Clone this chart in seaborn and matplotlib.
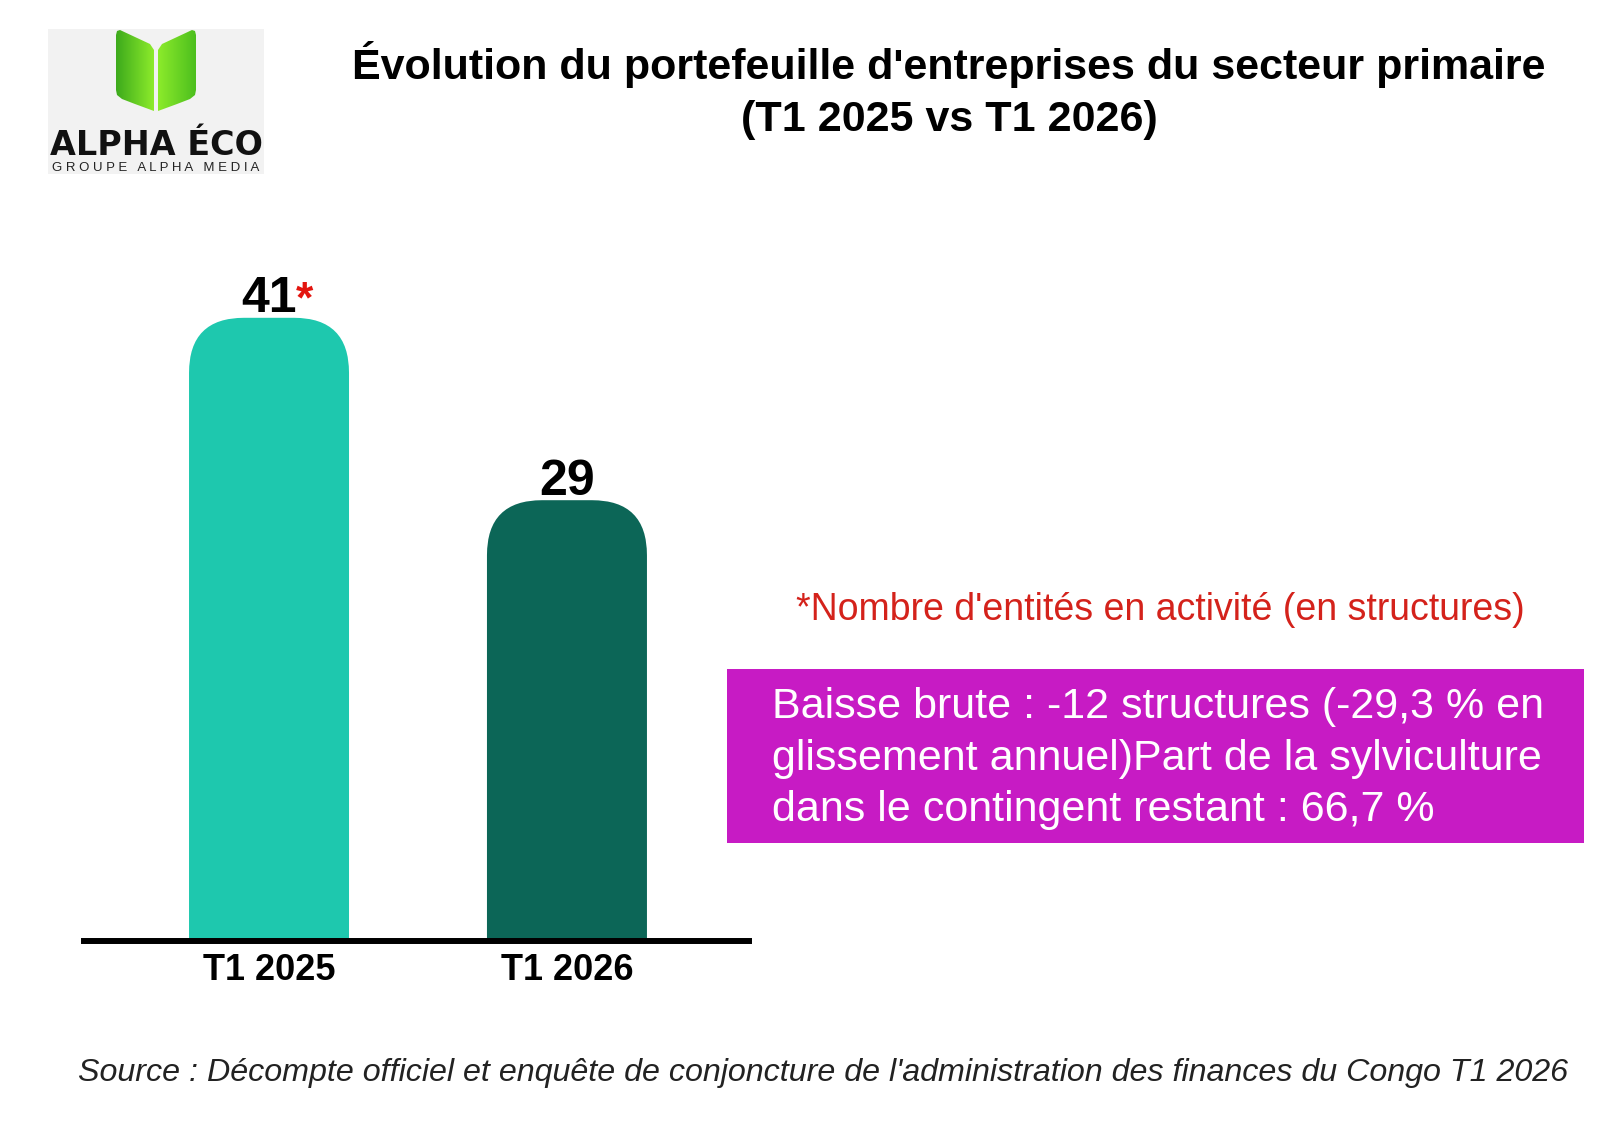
import matplotlib.pyplot as plt
import matplotlib.patches as mpatches
from matplotlib.colors import LinearSegmentedColormap
import numpy as np
import pandas as pd
import seaborn as sns

# Données
periods = ['T1 2025', 'T1 2026']
structures = [41, 29]
bar_colors = ['#1EC8AE', '#0C6657']

title_lines = ["Évolution du portefeuille d'entreprises du secteur primaire",
               "(T1 2025 vs T1 2026)"]
note = "*Nombre d'entités en activité (en structures)"
box_lines = ["Baisse brute : -12 structures (-29,3 % en",
             "glissement annuel)Part de la sylviculture",
             "dans le contingent restant : 66,7 %"]
source = ("Source : Décompte officiel et enquête de conjoncture de "
          "l'administration des finances du Congo T1 2026")

W, H = 1600, 1127


def fx(px):
    return px / W


def fy(py):
    return 1 - py / H


sns.set_theme(style='white')
plt.rcParams['font.family'] = ['Liberation Sans', 'DejaVu Sans']

fig = plt.figure(figsize=(16, 11.27), dpi=100)
fig.patch.set_facecolor('white')

# --- barres ---
ax = fig.add_axes([fx(84), fy(941), fx(749) - fx(84), fy(257) - fy(941)])
df = pd.DataFrame({'periode': periods, 'structures': structures})
sns.barplot(data=df, x='periode', y='structures', hue='periode',
            palette=bar_colors, legend=False, width=0.537, saturation=1, ax=ax)
ax.set_xlim(-0.621, 1.611)
ax.set_ylim(0, 45)

# barres arrondies en haut
p0 = ax.transData.transform((0, 0))
p1 = ax.transData.transform((1, 1))
px_x, px_y = p1[0] - p0[0], p1[1] - p0[1]
radius_px = 55
r = radius_px / px_x
aspect = (radius_px / px_y) / r
drop = radius_px / px_y
for bar in list(ax.patches):
    x0, w, h = bar.get_x(), bar.get_width(), bar.get_height()
    fc = bar.get_facecolor()
    bar.remove()
    ax.add_patch(mpatches.FancyBboxPatch(
        (x0, -drop), w, h + drop,
        boxstyle=f'round,pad=0,rounding_size={r}',
        mutation_aspect=aspect, fc=fc, ec='none', zorder=2))

for i, v in enumerate(structures):
    ax.annotate(str(v), (i, v), xytext=(0, 4), textcoords='offset points',
                ha='center', va='baseline', fontsize=36, fontweight='bold',
                color='black')
ax.annotate('*', (0, structures[0]), xytext=(19.5, 4), textcoords='offset points',
            ha='left', va='baseline', fontsize=32, fontweight='bold',
            color='#E3150F')

sns.despine(ax=ax, left=True)
ax.spines['bottom'].set_linewidth(4.3)
ax.spines['bottom'].set_color('black')
ax.spines['bottom'].set_zorder(5)
ax.set_xlabel('')
ax.set_ylabel('')
ax.set_yticks([])
ax.tick_params(axis='x', length=0, pad=9, labelsize=26, colors='black')
for lbl in ax.get_xticklabels():
    lbl.set_fontweight('bold')
ax.set_facecolor('none')

# --- titre et textes ---
fig.text(fx(949), fy(79), title_lines[0], ha='center', va='baseline',
         fontsize=31, fontweight='bold', color='black')
fig.text(fx(949), fy(131), title_lines[1], ha='center', va='baseline',
         fontsize=31, fontweight='bold', color='black')

fig.text(fx(1160), fy(620), note, ha='center', va='baseline',
         fontsize=27, color='#D4221B')

fig.add_artist(mpatches.Rectangle((fx(727), fy(843)), fx(1584) - fx(727),
                                  fy(669) - fy(843), transform=fig.transFigure,
                                  fc='#C71BC4', ec='none'))
for line, base in zip(box_lines, [718, 770, 821]):
    fig.text(fx(772), fy(base), line, ha='left', va='baseline',
             fontsize=31, color='white')

fig.text(fx(823), fy(1081), source, ha='center', va='baseline',
         fontsize=23.2, style='italic', color='#222222')

# --- logo ---
lax = fig.add_axes([fx(48), fy(174), fx(264) - fx(48), fy(29) - fy(174)])
lax.axis('off')
lax.add_patch(mpatches.Rectangle((48, 29), 216, 145, fc='#F2F2F2', ec='none',
                                 zorder=1))

left_leaf = [(116, 35), (117, 31), (120, 30), (150, 44), (154, 50), (154, 111),
             (135, 104), (122, 99), (117, 95), (116, 90)]
right_leaf = [(312 - x, y) for x, y in left_leaf]
grad = np.linspace(0, 1, 64).reshape(1, -1)
for pts, cols, ext in [(left_leaf, ['#3DAA1C', '#8CEB2B'], [116, 154, 111, 30]),
                       (right_leaf, ['#8CEB2B', '#4DBF1E'], [158, 196, 111, 30])]:
    poly = mpatches.Polygon(pts, closed=True, fc='none', ec='none', zorder=2)
    lax.add_patch(poly)
    im = lax.imshow(grad, extent=ext, aspect='auto', zorder=3,
                    cmap=LinearSegmentedColormap.from_list('g', cols))
    im.set_clip_path(poly)
lax.set_xlim(48, 264)
lax.set_ylim(174, 29)

lax.text(156, 155, 'ALPHA ÉCO', ha='center', va='baseline', fontsize=24,
         fontweight='bold', family='DejaVu Sans', color='#111111', zorder=4)
lax.text(156, 171, 'G R O U P E   A L P H A   M E D I A', ha='center',
         va='baseline', fontsize=9.5, color='#222222', zorder=4)

fig.savefig('out.png', dpi=100)
